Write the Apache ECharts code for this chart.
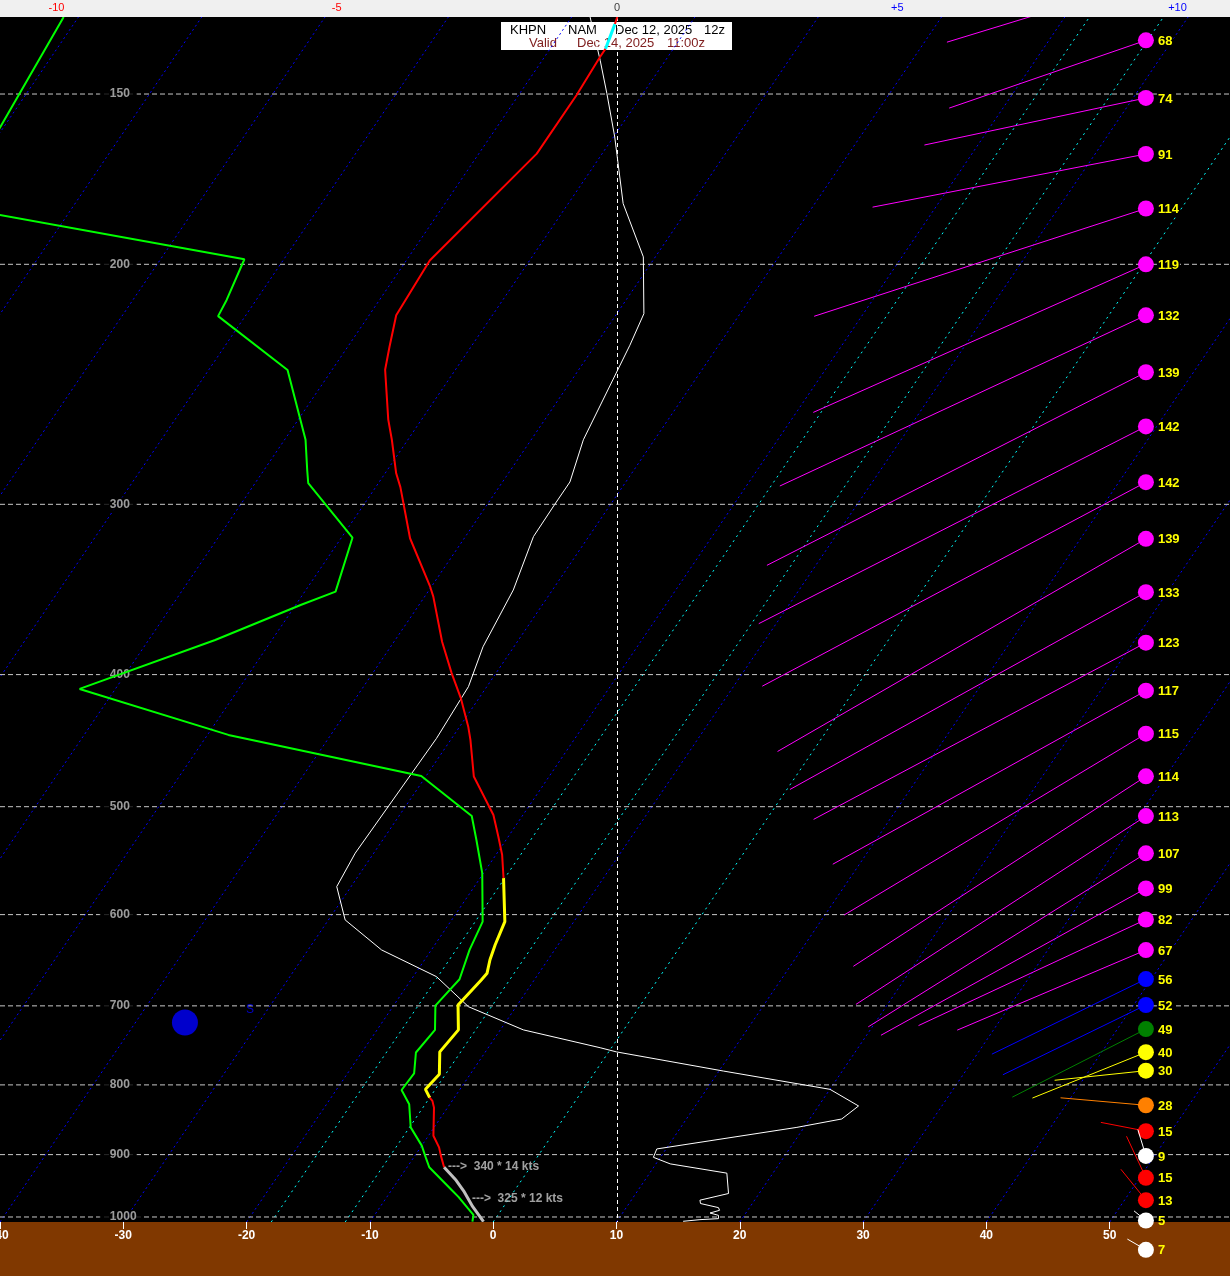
<!DOCTYPE html>
<html><head><meta charset="utf-8">
<script src="https://cdn.jsdelivr.net/npm/echarts@6/dist/echarts.min.js"></script>
<style>html,body{margin:0;padding:0;background:#000}#c{width:1230px;height:1276px}</style>
</head><body><div id="c"></div>
<script>
// ---------- DATA ----------
const isobarLevels = [150,200,300,400,500,600,700,800,900,1000];
const bottomTicks = [-40,-30,-20,-10,0,10,20,30,40,50];
const topTicks = [-10,-5,0,5,10];
const isothermsBlue = [-100,-90,-80,-70,-60,-50,-40,-30,-20,-10,10,20,30,40,50];
const isothermsCyan = [0,-12,-18];

// temperature profile (hPa, degC)
const tempP = [131.7,133.3,139.0,140.9,150.3,165.9,198.7,218,230,239,260,269,284.7,291.4,317.7,344.8,350.6,378.4,399,416,436.8,446.6,475.2,507,526,542.3,564.1,607.1,631.6,647.6,662.4,670,699,729,756.6,785.8,806,817.4,821.9,831.3,871.7,889,901.5,919.3,940,958.5,982.8,1008];
const tempT = [-56.3,-56.1,-55.5,-55.5,-55.3,-55.3,-58.1,-57.8,-56.6,-55.7,-52.7,-51.3,-49.1,-48.0,-44.4,-40.1,-39.3,-36.1,-33.6,-31.5,-29.3,-28.4,-26.1,-22.4,-20.8,-19.5,-18.1,-15.6,-15.1,-14.7,-14.2,-14.3,-14.8,-13.4,-13.7,-12.5,-12.8,-12.0,-11.6,-11.1,-9.6,-8.5,-7.9,-7.0,-5.3,-4.0,-2.5,-0.8];

// dewpoint profile (hPa, degC)
const dewP = [131.7,167.7,179.4,198.3,212.4,218.3,239.1,269,283.1,289.4,317.4,347.7,355.6,377.3,409.8,442.9,474.7,507.9,528.9,559.4,607.1,636.9,669.2,699.8,729,757.4,784.5,806.9,826.5,859.5,886.4,906.6,919.4,955.8,966.6,985.4,996.3,1008];
const dewT = [-101.2,-100.0,-103.0,-73.2,-72.4,-72.2,-63.6,-58.3,-56.5,-55.7,-49.1,-47.5,-49.6,-54.6,-62.9,-48.3,-30.4,-24.1,-22.4,-20.1,-17.4,-16.9,-16.1,-16.6,-15.3,-15.6,-14.6,-14.7,-13.3,-11.9,-10.0,-8.9,-8.2,-5.1,-4.2,-2.8,-2.0,-1.7];

// white profile on the top scale (-10 .. +10)
const whiteP = [131.7,141.7,149.9,161.3,180.5,197.5,217.4,229.3,269,288.9,300,316.8,346.7,381.6,408.2,445.5,540.8,572.3,605.4,636.9,666.3,701,729,751.3,756.6,781.5,806,829,847.4,859.5,891.4,904.1,914.2,928.6,961.1,972,977.5,984.3,988.8,993.3,997.2,1002.8,1004.5,1007.3];
const whiteV = [-0.48,-0.30,-0.18,-0.04,0.11,0.47,0.48,0.23,-0.60,-0.84,-1.11,-1.49,-1.85,-2.39,-2.65,-3.22,-4.67,-5.00,-4.85,-4.20,-3.22,-2.65,-1.67,-0.30,-0.01,1.90,3.80,4.31,4.01,3.21,0.71,0.65,0.95,1.96,1.99,1.48,1.49,1.81,1.83,1.66,1.81,1.81,1.48,1.18];

// winds (hPa, direction deg, speed kt)
const windP   = [124,137,151,166,182,200,218,240,263,289,318,348,379,411,442,475,508,541,574,605,637,669,699,728,757,781,828,865,902,936,972,1006,1057];
const windDir = [253,251,258,259,252,246,245,243,243,242,240,241,242,241,239,237,237,238,241,245,247,244,244,243,248,264,275,281,343,335,321,309,300];
const windSpd = [68,68,74,91,114,119,132,139,142,142,139,133,123,117,115,114,113,107,99,82,67,56,52,49,40,30,28,15,9,15,13,5,7];

// storm marker and surface-wind notes
const stormPoint = {T:-25, p:720, text:'S'};
const noteP = [919.3, 969];
const noteT = [-7.0, -3.35];
const noteText = ['340 * 14 kts', '325 * 12 kts'];

// ---------- LAYOUT / STYLE ----------
const P_TOP = 131.7, P_BOT = 1008.5;
const X_MIN = -40, X_MAX = 59.76;
const U_MIN = -11.008, U_MAX = 10.937;
const SKEW = 32.6;
const WIND_X = 52.94;
const KT_PX = 3.06;
const LABEL_X = -31.9;
const FONT = '"Liberation Sans", Arial, sans-serif';
const tempSegStyle = [
  {from:0,to:1,color:'#ff0000',width:2},
  {from:1,to:2,color:'#00ffff',width:3},
  {from:2,to:26,color:'#ff0000',width:2},
  {from:26,to:37,color:'#ffff00',width:3},
  {from:37,to:43,color:'#ff0000',width:2},
  {from:43,to:47,color:'#c0c0c0',width:3}
];
function skewX(T,p){ return T + SKEW*Math.log(P_BOT/p); }
function windColor(s){
  if (s<10) return '#ffffff';
  if (s<20) return '#ff0000';
  if (s<30) return '#ff8000';
  if (s<45) return '#ffff00';
  if (s<50) return '#008000';
  if (s<60) return '#0000ff';
  return '#ff00ff';
}

const series = [];
const topShift = SKEW*Math.log(P_BOT/P_TOP);
isothermsBlue.forEach(T => series.push({type:'line', silent:true, symbol:'none', z:1,
  data:[[T,P_BOT],[T+topShift,P_TOP]], lineStyle:{color:'#0000ff',width:1,type:[2,3]}}));
isothermsCyan.forEach(T => series.push({type:'line', silent:true, symbol:'none', z:1,
  data:[[T,P_BOT],[T+topShift,P_TOP]], lineStyle:{color:'#00ffff',width:1,type:[2,4]}}));
isobarLevels.forEach(p => series.push({type:'line', silent:true, symbol:'none', z:1,
  data:[[X_MIN,p],[X_MAX,p]], lineStyle:{color:'#c8c8c8',width:1,type:[5,3]}}));
series.push({type:'scatter', silent:true, z:2, symbolSize:0,
  data: isobarLevels.map(p=>[LABEL_X,p]),
  label:{show:true, position:'right', distance:0, formatter:d=>String(d.value[1]),
    color:'#c0c0c0', fontWeight:'bold', fontSize:12, fontFamily:FONT, backgroundColor:'#000', padding:[1,7,1,10]}});

// white profile with its zero line
series.push({type:'line', xAxisIndex:1, symbol:'none', z:4,
  data: whiteP.map((p,i)=>[whiteV[i],p]), lineStyle:{color:'#ffffff',width:1},
  markLine:{silent:true, symbol:'none', label:{show:false}, lineStyle:{color:'#ffffff',width:1,type:[4,3]}, data:[{xAxis:0}]}});

// dewpoint
series.push({type:'line', symbol:'none', z:5,
  data: dewP.map((p,i)=>[skewX(dewT[i],p),p]), lineStyle:{color:'#00ff00',width:2}});

// temperature segments
tempSegStyle.forEach(s => {
  const d = [];
  for (let i=s.from;i<=s.to;i++) d.push([skewX(tempT[i],tempP[i]), tempP[i]]);
  series.push({type:'line', symbol:'none', z:6, data:d, lineStyle:{color:s.color,width:s.width}});
});

// notes
series.push({type:'scatter', silent:true, z:7, symbolSize:0,
  data: noteP.map((p,i)=>({value:[skewX(noteT[i],p),p], txt:noteText[i]})),
  label:{show:true, position:'right', distance:4, formatter:d=>'--->  '+d.data.txt,
    color:'#c8c8c8', fontWeight:'bold', fontSize:12, fontFamily:FONT}});

// storm marker
series.push({type:'scatter', silent:true, z:7, symbolSize:26, itemStyle:{color:'#0000ff'},
  data:[[stormPoint.T, stormPoint.p]],
  label:{show:true, formatter:stormPoint.text, color:'#0000ff', fontSize:12, fontFamily:FONT, offset:[65,-13]}});

// winds
series.push({type:'custom', coordinateSystem:'cartesian2d', clip:false, z:48, silent:true,
  data: windP.map((p,i)=>[WIND_X,p,windDir[i],windSpd[i]]),
  renderItem:(params,api)=>{
    const c = api.coord([api.value(0), api.value(1)]);
    const a = api.value(2)*Math.PI/180, s = api.value(3);
    const L = s*KT_PX, col = windColor(s);
    const bottom = params.coordSys.y + params.coordSys.height;
    const ts = {text:String(s), fill:'#ffff00', font:'bold 13px '+FONT, verticalAlign:'middle', align:'left', padding:[0,1]};
    if (c[1] + 7 < bottom) ts.backgroundColor = '#000';
    return {type:'group', children:[
      {type:'line', shape:{x1:c[0],y1:c[1],x2:c[0]+L*Math.sin(a),y2:c[1]-L*Math.cos(a)}, style:{stroke:col,lineWidth:1}},
      {type:'circle', shape:{cx:c[0],cy:c[1],r:8}, style:{fill:col}},
      {type:'text', x:c[0]+11, y:c[1]+1, style:ts}
    ]};
  }});

const chart = echarts.init(document.getElementById('c'), null, {renderer:'canvas'});
chart.setOption({
  animation:false,
  backgroundColor:'#000',
  grid:{left:0,right:0,top:17,bottom:54,containLabel:false,outerBoundsMode:'none'},
  xAxis:[
    {type:'value', min:X_MIN, max:X_MAX, position:'bottom', z:45,
     axisLine:{show:false}, splitLine:{show:false},
     axisTick:{show:true, customValues:bottomTicks, length:7, lineStyle:{color:'#ffffff'}},
     axisLabel:{customValues:bottomTicks, color:'#ffffff', fontWeight:'bold', fontSize:12, fontFamily:FONT, margin:8, hideOverlap:false}},
    {type:'value', min:U_MIN, max:U_MAX, position:'top', z:60,
     axisLine:{show:false}, splitLine:{show:false}, axisTick:{show:false},
     axisLabel:{customValues:topTicks, fontSize:11, fontFamily:FONT, margin:4,
       formatter:v=> v>0 ? '+'+v : String(v),
       color:v=> v<0 ? '#ff0000' : (v>0 ? '#0000ff' : '#404040')}}
  ],
  yAxis:{type:'log', logBase:10, inverse:true, min:P_TOP, max:P_BOT,
    axisLine:{show:false}, axisTick:{show:false}, axisLabel:{show:false}, splitLine:{show:false}},
  graphic:[
    {type:'rect', z:0.5, shape:{x:501,y:22,width:231,height:28}, style:{fill:'#ffffff'}},
    {type:'text', z:0.6, x:510, y:30, style:{text:'KHPN', fill:'#000', font:'13px '+FONT, verticalAlign:'middle'}},
    {type:'text', z:0.6, x:568, y:30, style:{text:'NAM', fill:'#000', font:'13px '+FONT, verticalAlign:'middle'}},
    {type:'text', z:0.6, x:615, y:30, style:{text:'Dec 12, 2025', fill:'#000', font:'13px '+FONT, verticalAlign:'middle'}},
    {type:'text', z:0.6, x:704, y:30, style:{text:'12z', fill:'#000', font:'13px '+FONT, verticalAlign:'middle'}},
    {type:'text', z:0.6, x:529, y:43, style:{text:'Valid', fill:'#802020', font:'13px '+FONT, verticalAlign:'middle'}},
    {type:'text', z:0.6, x:577, y:43, style:{text:'Dec 14, 2025', fill:'#802020', font:'13px '+FONT, verticalAlign:'middle'}},
    {type:'text', z:0.6, x:667, y:43, style:{text:'11:00z', fill:'#802020', font:'13px '+FONT, verticalAlign:'middle'}},
    {type:'rect', z:40, shape:{x:0,y:1222,width:1230,height:54}, style:{fill:'#803800'}},
    {type:'rect', z:50, shape:{x:0,y:0,width:1230,height:17}, style:{fill:'#f0f0f0'}}
  ],
  series: series
});
</script></body></html>
